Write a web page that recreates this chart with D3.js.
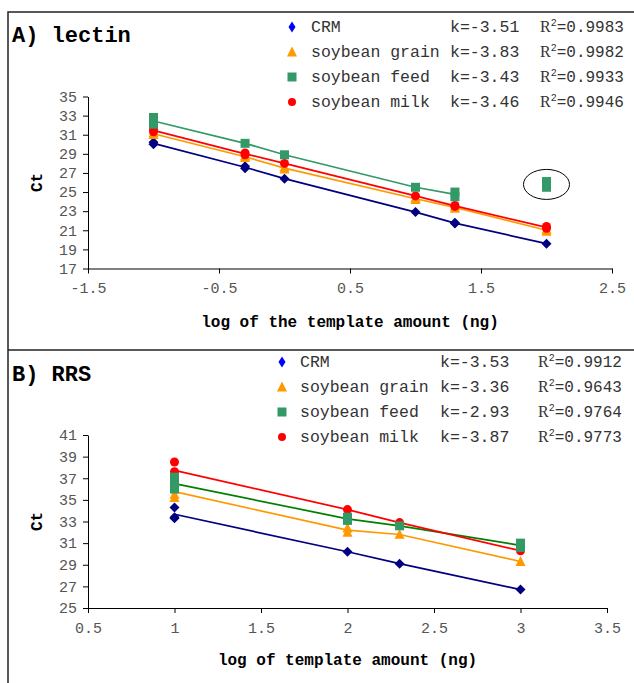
<!DOCTYPE html>
<html>
<head>
<meta charset="utf-8">
<script src="https://cdn.jsdelivr.net/npm/d3@7"></script>
<style>
  body { margin: 0; background: #fff; }
  text { font-family: "Liberation Mono", "Courier New", monospace; }
  .tick text { fill: #555; font-size: 15px; }
  .tick line, .domain { stroke: #000; stroke-width: 1; }
</style>
</head>
<body>
<svg id="chart" width="634" height="683"></svg>
<script>
// series shared by both panels
const seriesNames = ["CRM", "soybean grain", "soybean feed", "soybean milk"];
const markerTypes = ["diamond", "triangle", "square", "circle"];
const markerColors = ["#000080", "#FF9900", "#339966", "#FF0000"];
const legendColors = ["#0000FF", "#FF9900", "#339966", "#FF0000"];

// A) lectin  (replicate Ct values at each log amount)
const xA = [-1, -0.301, 0, 1, 1.301, 2];
const crmA = [[30.2, 30.0], [27.7, 27.5], [26.4], [22.9], [21.8, 21.7], [19.6]];
const grainA = [[31.2, 31.0], [28.8, 28.6], [27.6, 27.4], [24.4, 24.2], [23.5, 23.3], [21.1, 20.9]];
const feedA = [[32.8, 32.4, 32.1], [30.1], [28.9], [25.5], [25.0, 24.5], null];
const milkA = [[31.6, 31.3], [29.1, 28.9], [28.0], [24.6], [23.6, 23.5], [21.4, 21.2]];
const outlierXA = 2;
const outlierYA = [26.1, 25.5];
const kA = ["-3.51", "-3.83", "-3.43", "-3.46"];
const r2A = ["0.9983", "0.9982", "0.9933", "0.9946"];
const xTicksA = [-1.5, -0.5, 0.5, 1.5, 2.5];
const yTicksA = [17, 19, 21, 23, 25, 27, 29, 31, 33, 35];

// B) RRS
const xB = [1, 2, 2.301, 3];
const crmB = [[34.3, 33.4, 33.3], [30.2], [29.1], [26.7]];
const grainB = [[36.6, 35.5, 35.2], [32.4, 32.0], [31.8], [29.3]];
const feedB = [[37.1, 36.4, 36.0], [33.4, 33.1], [32.6], [31.0, 30.6]];
const milkB = [[38.5, 37.6, 37.1], [34.1], [32.9], [30.3]];
const kB = ["-3.53", "-3.36", "-2.93", "-3.87"];
const r2B = ["0.9912", "0.9643", "0.9764", "0.9773"];
const xTicksB = [0.5, 1, 1.5, 2, 2.5, 3, 3.5];
const yTicksB = [25, 27, 29, 31, 33, 35, 37, 39, 41];

const svg = d3.select("#chart");

// frame around the two panels
svg.append("rect").attr("x", 8).attr("y", 12).attr("width", 700).attr("height", 700)
  .attr("fill", "none").attr("stroke", "#222").attr("stroke-width", 1.5);
svg.append("line").attr("x1", 8).attr("x2", 634).attr("y1", 350).attr("y2", 350)
  .attr("stroke", "#222").attr("stroke-width", 1.5);

function markerPath(type, w, h) {
  const p = d3.path();
  if (type === "diamond") {
    p.moveTo(0, -h); p.lineTo(w, 0); p.lineTo(0, h); p.lineTo(-w, 0); p.closePath();
  } else if (type === "triangle") {
    p.moveTo(0, -h); p.lineTo(w, h * 0.8); p.lineTo(-w, h * 0.8); p.closePath();
  } else if (type === "square") {
    p.rect(-w, -h, 2 * w, 2 * h);
  } else {
    p.arc(0, 0, w, 0, 2 * Math.PI);
  }
  return p.toString();
}
const chartSize = { diamond: [5, 5], triangle: [5, 5.5], square: [4.5, 4.5], circle: [4.5, 4.5] };
const legendSize = { diamond: [3.5, 5.5], triangle: [5, 5.5], square: [4.5, 4.5], circle: [4, 4] };

function drawPanel(o) {
  const g = svg.append("g");
  const x = d3.scaleLinear().domain(o.xDomain).range(o.xRange);
  const y = d3.scaleLinear().domain(o.yDomain).range(o.yRange);

  g.append("g").attr("transform", `translate(0,${o.yRange[0]})`)
    .call(d3.axisBottom(x).tickValues(o.xTicks).tickFormat(d => String(d))
      .tickSize(5).tickSizeOuter(0).tickPadding(9));
  g.append("g").attr("transform", `translate(${o.xRange[0]},0)`)
    .call(d3.axisLeft(y).tickValues(o.yTicks).tickFormat(d => String(d))
      .tickSize(5).tickSizeOuter(0).tickPadding(6));

  g.append("text").attr("x", 12).attr("y", o.titleY).text(o.title)
    .attr("font-size", 22).attr("font-weight", "bold").attr("fill", "#000");
  g.append("text").attr("x", (o.xRange[0] + o.xRange[1]) / 2).attr("y", o.xTitleY)
    .attr("text-anchor", "middle").attr("font-size", 16).attr("font-weight", "bold")
    .text(o.xTitle);
  const cy = (o.yRange[0] + o.yRange[1]) / 2;
  g.append("text").attr("transform", `translate(42,${cy}) rotate(-90)`)
    .attr("text-anchor", "middle").attr("font-size", 16).attr("font-weight", "bold").text("Ct");

  // lines through the replicate means
  const line = d3.line().x(d => x(d[0])).y(d => y(d[1]));
  o.series.forEach((vals, s) => {
    const pts = o.xs.map((xv, i) => vals[i] ? [xv, d3.mean(vals[i])] : null).filter(d => d);
    g.append("path").attr("d", line(pts)).attr("fill", "none")
      .attr("stroke", o.lineColors[s]).attr("stroke-width", 1.7);
  });

  if (o.outlierX !== undefined) {
    g.append("ellipse").attr("cx", x(o.outlierX)).attr("cy", y(d3.mean(o.outlierY)))
      .attr("rx", 23).attr("ry", 15).attr("fill", "none").attr("stroke", "#000").attr("stroke-width", 1);
  }

  // markers, drawn CRM, grain, milk, feed
  [0, 1, 3, 2].forEach(s => {
    const t = markerTypes[s];
    const pts = [];
    o.xs.forEach((xv, i) => { if (o.series[s][i]) o.series[s][i].forEach(v => pts.push([xv, v])); });
    if (s === 2 && o.outlierX !== undefined) o.outlierY.forEach(v => pts.push([o.outlierX, v]));
    g.selectAll(null).data(pts).join("path")
      .attr("d", markerPath(t, chartSize[t][0], chartSize[t][1]))
      .attr("transform", d => `translate(${x(d[0])},${y(d[1])})`)
      .attr("fill", markerColors[s]);
  });

  // legend
  seriesNames.forEach((name, s) => {
    const ly = o.legendY + s * 25;
    const t = markerTypes[s];
    g.append("path").attr("d", markerPath(t, legendSize[t][0], legendSize[t][1]))
      .attr("transform", `translate(${o.legendX[0]},${ly})`).attr("fill", legendColors[s]);
    g.append("text").attr("x", o.legendX[1]).attr("y", ly + 5).attr("font-size", 16.5)
      .attr("fill", "#333").text(name);
    g.append("text").attr("x", o.legendX[2]).attr("y", ly + 5).attr("font-size", 16.5)
      .attr("fill", "#333").text("k=" + o.k[s]);
    const r = g.append("text").attr("x", o.legendX[3]).attr("y", ly + 5)
      .attr("font-size", 16).attr("fill", "#333");
    r.append("tspan").attr("font-family", "'Liberation Serif', serif").text("R");
    r.append("tspan").attr("dy", -6).attr("font-size", 10).text("2");
    r.append("tspan").attr("dy", 6).text("=" + o.r2[s]);
  });
}

drawPanel({
  title: "A) lectin", titleY: 42,
  xTitle: "log of the template amount (ng)", xTitleY: 327,
  xs: xA, series: [crmA, grainA, feedA, milkA],
  lineColors: ["#000080", "#FF9900", "#339966", "#FF0000"],
  outlierX: outlierXA, outlierY: outlierYA,
  k: kA, r2: r2A,
  xDomain: [-1.5, 2.5], xRange: [88, 612], xTicks: xTicksA,
  yDomain: [17, 35], yRange: [268.5, 96.5], yTicks: yTicksA,
  legendX: [292, 311, 450, 540], legendY: 27
});

drawPanel({
  title: "B) RRS", titleY: 381,
  xTitle: "log of template amount (ng)", xTitleY: 665,
  xs: xB, series: [crmB, grainB, feedB, milkB],
  lineColors: ["#000080", "#FF9900", "#008000", "#FF0000"],
  k: kB, r2: r2B,
  xDomain: [0.5, 3.5], xRange: [88, 607], xTicks: xTicksB,
  yDomain: [25, 41], yRange: [608, 435], yTicks: yTicksB,
  legendX: [282, 300, 440, 538], legendY: 362
});
</script>
</body>
</html>
